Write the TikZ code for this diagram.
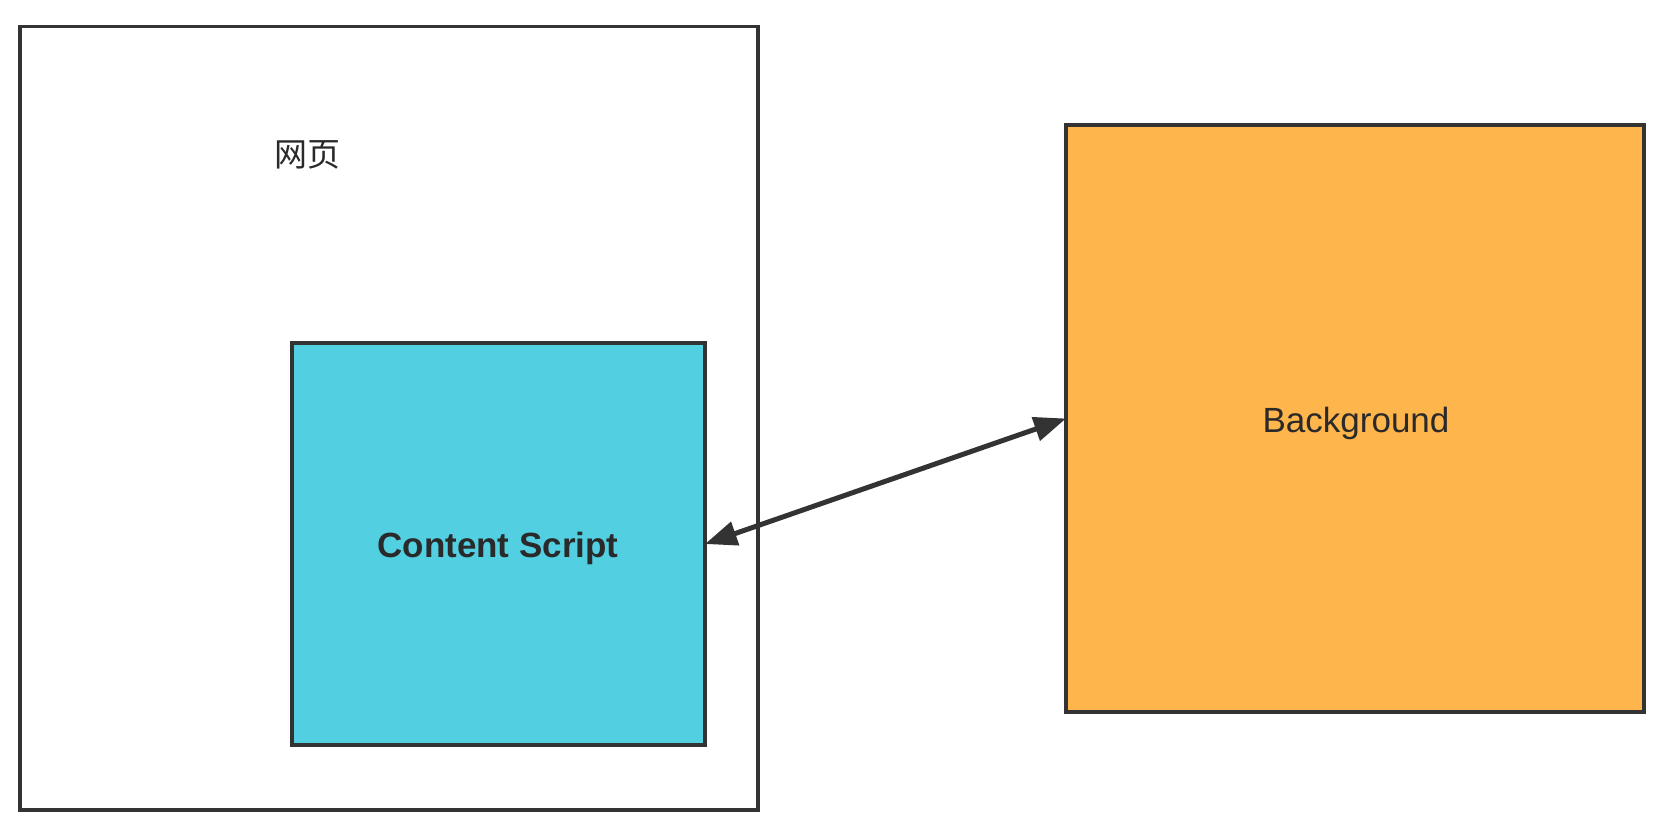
\documentclass[tikz,border=0pt]{standalone}
\usepackage{fontspec}
\setmainfont{Liberation Sans}
\newfontfamily\cjk{Noto Sans CJK SC}
\usetikzlibrary{arrows.meta}
\definecolor{edgegray}{HTML}{333333}
\definecolor{txtgray}{HTML}{2A2A2A}
\definecolor{cyanfill}{HTML}{52D0E2}
\definecolor{orangefill}{HTML}{FEB54B}
\tikzset{
  box/.style={draw=edgegray, line width=3.5pt, rectangle, inner sep=0pt, outer sep=0pt},
  lbl/.style={text=txtgray, inner sep=0pt},
  link/.style={draw=edgegray, line width=5pt,
    {Triangle[length=32pt,width=24pt]}-{Triangle[length=32pt,width=24pt]}}
}
\begin{document}
\begin{tikzpicture}[x=1pt,y=-1pt]
\useasboundingbox[fill=white] (0,0) rectangle (1661,825);
\node[box, minimum width=738pt, minimum height=783.5pt] (page) at (389,418.25) {};
\node[lbl, font=\cjk\fontsize{33}{40}\selectfont] (pagelbl) at (307,155) {网页};
\node[box, fill=cyanfill, minimum width=413pt, minimum height=402pt] (cs) at (498.5,544) {};
\node[lbl, font=\bfseries\fontsize{35}{42}\selectfont] (cslbl) at (498,548) {Content Script};
\node[box, fill=orangefill, minimum width=578pt, minimum height=587pt] (bg) at (1355,418.5) {};
\node[lbl, font=\fontsize{35}{42}\selectfont] (bglbl) at (1356,423) {Background};
\draw[link] (cs.east) -- (bg.west);
\end{tikzpicture}
\end{document}
